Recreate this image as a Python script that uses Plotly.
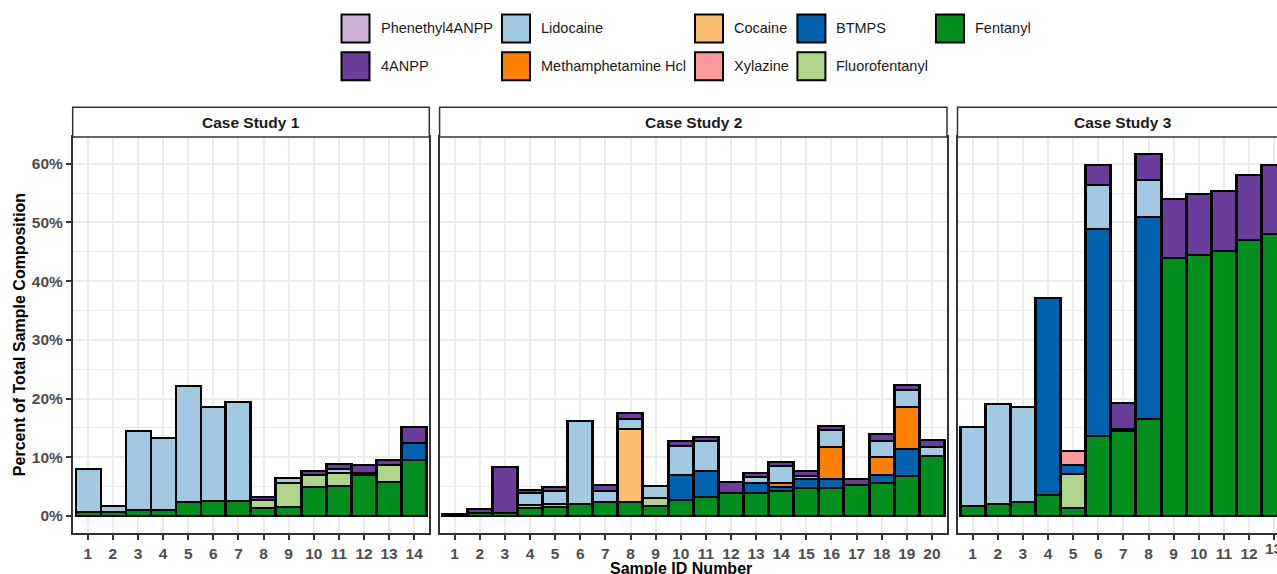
import plotly.graph_objects as go

# ---------------- data (percent of total sample composition) ----------------
compounds = ["Fentanyl", "Fluorofentanyl", "BTMPS", "Xylazine", "Cocaine",
             "Methamphetamine Hcl", "Lidocaine", "4ANPP", "Phenethyl4ANPP"]  # stack order, bottom first

colors = {
    "Phenethyl4ANPP": "#CAB2D6",
    "4ANPP": "#6A3D9A",
    "Lidocaine": "#A2C9E2",
    "Methamphetamine Hcl": "#FF7F00",
    "Cocaine": "#FDBF6F",
    "Xylazine": "#FB9A99",
    "BTMPS": "#0061AE",
    "Fluorofentanyl": "#AED68A",
    "Fentanyl": "#008F1C",
}

N = None

# Case Study 1 (samples 1-14)
cs1_samples = list(range(1, 15))
cs1_fentanyl = [0.6, 0.6, 1.0, 1.1, 2.4, 2.5, 2.6, 1.3, 1.5, 5.0, 5.1, 7.0, 5.85, 9.5]
cs1_fluorofentanyl = [N, N, N, N, N, N, N, 1.4, 4.1, 2.0, 2.3, 0.4, 2.75, N]
cs1_btmps = [N, N, N, N, N, N, N, N, N, N, N, N, N, 3.0]
cs1_lidocaine = [7.4, 1.1, 13.4, 12.25, 19.8, 16.1, 16.8, N, 0.9, N, 0.6, N, N, N]
cs1_4anpp = [N, N, N, N, N, N, N, 0.6, N, 0.7, 0.8, 1.2, 1.0, 2.6]

# Case Study 2 (samples 1-20)
cs2_samples = list(range(1, 21))
cs2_fentanyl = [0.35, 0.5, 0.5, 1.4, 1.6, 2.05, 2.4, 2.4, 1.7, 2.8,
                3.3, 4.0, 4.0, 4.3, 4.7, 4.8, 5.3, 5.6, 6.8, 10.3]
cs2_fluorofentanyl = [N, N, N, 0.4, 0.4, N, N, N, 1.3, N,
                      N, N, N, N, N, N, N, N, N, N]
cs2_btmps = [N, N, N, N, N, N, N, N, N, 4.2,
             4.4, N, 1.6, 0.7, 1.6, 1.5, N, 1.4, 4.6, N]
cs2_cocaine = [N, N, N, N, N, N, N, 12.5, N, N,
               N, N, N, N, N, N, N, N, N, N]
cs2_methamphetamine = [N, N, N, N, N, N, N, N, N, N,
                       N, N, N, 0.6, N, 5.5, N, 3.0, 7.2, N]
cs2_lidocaine = [N, N, N, 2.2, 2.3, 14.2, 1.8, 1.6, 2.1, 5.0,
                 5.1, N, 1.0, 2.9, 0.5, 2.9, N, 2.8, 2.9, 1.5]
cs2_4anpp = [N, 0.7, 7.8, 0.5, 0.7, N, 1.0, 1.0, N, 0.8,
             0.7, 1.8, 0.8, 0.65, 0.9, 0.7, 1.0, 1.1, 0.8, 1.2]

# Case Study 3 (samples 1-13)
cs3_samples = list(range(1, 14))
cs3_fentanyl = [1.7, 2.05, 2.4, 3.6, 1.3, 13.6, 14.4, 16.5, 43.9, 44.5, 45.1, 47.0, 48.1]
cs3_fluorofentanyl = [N, N, N, N, 5.9, N, N, N, N, N, N, N, N]
cs3_btmps = [N, N, N, 33.6, 1.55, 35.3, 0.35, 34.4, N, N, N, N, N]
cs3_xylazine = [N, N, N, N, 2.25, N, N, N, N, N, N, N, N]
cs3_lidocaine = [13.4, 17.1, 16.1, N, N, 7.4, N, 6.4, N, N, N, N, N]
cs3_4anpp = [N, N, N, N, N, 3.5, 4.5, 4.4, 10.1, 10.3, 10.3, 11.0, 11.7]

case_titles = ["Case Study 1", "Case Study 2", "Case Study 3"]
y_ticks = [0, 10, 20, 30, 40, 50, 60]

cases = [
    (cs1_samples, {"Fentanyl": cs1_fentanyl, "Fluorofentanyl": cs1_fluorofentanyl,
                   "BTMPS": cs1_btmps, "Lidocaine": cs1_lidocaine, "4ANPP": cs1_4anpp}),
    (cs2_samples, {"Fentanyl": cs2_fentanyl, "Fluorofentanyl": cs2_fluorofentanyl,
                   "BTMPS": cs2_btmps, "Cocaine": cs2_cocaine,
                   "Methamphetamine Hcl": cs2_methamphetamine,
                   "Lidocaine": cs2_lidocaine, "4ANPP": cs2_4anpp}),
    (cs3_samples, {"Fentanyl": cs3_fentanyl, "Fluorofentanyl": cs3_fluorofentanyl,
                   "BTMPS": cs3_btmps, "Xylazine": cs3_xylazine,
                   "Lidocaine": cs3_lidocaine, "4ANPP": cs3_4anpp}),
]

# ---------------- layout geometry ----------------
W, H = 1277, 574
def px(x):
    return x / W
def py(y):
    return 1 - y / H

FONT = "Liberation Sans, Arial, sans-serif"
panel_px = [(72.7, 429.3), (439.6, 947.0), (957.5, W)]
x_ranges = [[0.4, 14.6], [0.4, 20.6], [0.4, 13.11]]
full_centers = [7.5, 10.5, 7.0]   # centre of each full (uncropped) panel, data units
plot_top, plot_bot, strip_top = 137.0, 533.3, 107.3
y_range = [-2.95, 64.55]
TICKFONT = dict(family=FONT, size=15.5, color="#4D4D4D", weight="bold")

fig = go.Figure()

for k, (samples, comp_vals) in enumerate(cases):
    ax = "" if k == 0 else str(k + 1)
    for comp in compounds:
        if comp not in comp_vals:
            continue
        fig.add_trace(go.Bar(
            x=samples, y=comp_vals[comp], name=comp,
            xaxis="x" + ax, yaxis="y" + ax, width=1.0,
            marker=dict(color=colors[comp], line=dict(color="black", width=2.2)),
            showlegend=False,
        ))

layout = dict(
    width=W, height=H, barmode="stack", bargap=0,
    margin=dict(l=0, r=0, t=0, b=0),
    paper_bgcolor="white", plot_bgcolor="white",
    font=dict(family=FONT, color="#1A1A1A"),
    showlegend=False,
)

grid = "#EBEBEB"
shapes = []
annotations = []
for k in range(3):
    ax = "" if k == 0 else str(k + 1)
    samples = cases[k][0]
    x0, x1 = panel_px[k]
    ticktext = [str(s) for s in samples]
    if k == 2:
        # last tick label of the cropped panel is drawn as an annotation so it can be cut by the edge
        ticktext[-1] = ""
        annotations.append(dict(xref="x3", yref="paper", x=samples[-1], y=py(548.5),
                                text=f"<b>{samples[-1]}</b>", showarrow=False,
                                xanchor="center", yanchor="middle", font=TICKFONT))
    layout["xaxis" + ax] = dict(
        domain=[px(x0), px(x1)], range=x_ranges[k], anchor="y" + ax,
        tickmode="array", tickvals=samples, ticktext=ticktext,
        ticks="outside", ticklen=5, tickwidth=1.5, tickcolor="#333333",
        tickfont=TICKFONT,
        showgrid=True, gridcolor=grid, gridwidth=1.6, zeroline=False,
        showline=True, mirror=True, linecolor="#333333", linewidth=1.5,
        automargin=False, fixedrange=True,
    )
    ydict = dict(
        domain=[py(plot_bot), py(plot_top)], range=y_range, anchor="x" + ax,
        tickmode="array", tickvals=y_ticks,
        showgrid=True, gridcolor=grid, gridwidth=1.6, zeroline=False,
        minor=dict(tickmode="array", tickvals=[5, 15, 25, 35, 45, 55],
                   showgrid=True, gridcolor=grid, gridwidth=1.1),
        showline=True, mirror=(k < 2), linecolor="#333333", linewidth=1.5,
        automargin=False, fixedrange=True,
    )
    if k == 0:
        ydict.update(ticks="outside", ticklen=5, tickwidth=1.5, tickcolor="#333333",
                     ticktext=[f"{v}%" for v in y_ticks], showticklabels=True,
                     tickfont=TICKFONT)
    else:
        ydict.update(ticks="", showticklabels=False, matches="y")
    layout["yaxis" + ax] = ydict

fig.update_layout(**layout)

# facet strips
for k in range(3):
    ax = "" if k == 0 else str(k + 1)
    shapes.append(dict(type="rect", xref=f"x{ax} domain", yref="paper",
                       x0=0, x1=1 if k < 2 else 1.05,
                       y0=py(plot_top), y1=py(strip_top),
                       fillcolor="white", line=dict(color="#333333", width=1.5), layer="above"))
    annotations.append(dict(xref="x" + ax, yref="paper", x=full_centers[k],
                            y=py((plot_top + strip_top) / 2), text=f"<b>{case_titles[k]}</b>",
                            showarrow=False, xanchor="center", yanchor="middle",
                            font=dict(family=FONT, size=15.5, color="#1A1A1A")))

# axis titles
annotations.append(dict(xref="paper", yref="paper", x=px(19), y=py((plot_top + plot_bot) / 2),
                        text="<b>Percent of Total Sample Composition</b>", textangle=-90,
                        showarrow=False, xanchor="center", yanchor="middle",
                        font=dict(family=FONT, size=16, color="black")))
annotations.append(dict(xref="paper", yref="paper", x=px(681), y=py(568),
                        text="<b>Sample ID Number</b>",
                        showarrow=False, xanchor="center", yanchor="middle",
                        font=dict(family=FONT, size=16, color="black")))

# legend (2 rows x 5 columns, column-major like ggplot)
legend_order = ["Phenethyl4ANPP", "4ANPP", "Lidocaine", "Methamphetamine Hcl", "Cocaine",
                "Xylazine", "BTMPS", "Fluorofentanyl", "Fentanyl"]
col_key_x = [341.5, 502.0, 695.0, 797.4, 936.0]
row_key_y = [14.5, 52.3]
key = 28.0
for i, comp in enumerate(legend_order):
    c, r = divmod(i, 2)
    kx, ky = col_key_x[c], row_key_y[r]
    shapes.append(dict(type="rect", xref="paper", yref="paper",
                       x0=px(kx), x1=px(kx + key), y0=py(ky + key), y1=py(ky),
                       fillcolor=colors[comp], line=dict(color="black", width=2)))
    annotations.append(dict(xref="paper", yref="paper", x=px(kx + key + 9), y=py(ky + key / 2),
                            text=comp, showarrow=False, xanchor="left", yanchor="middle",
                            font=dict(family=FONT, size=14.5, color="#1A1A1A")))

fig.update_layout(shapes=shapes, annotations=annotations)
fig.write_html("out.html", config={"displayModeBar": False})
